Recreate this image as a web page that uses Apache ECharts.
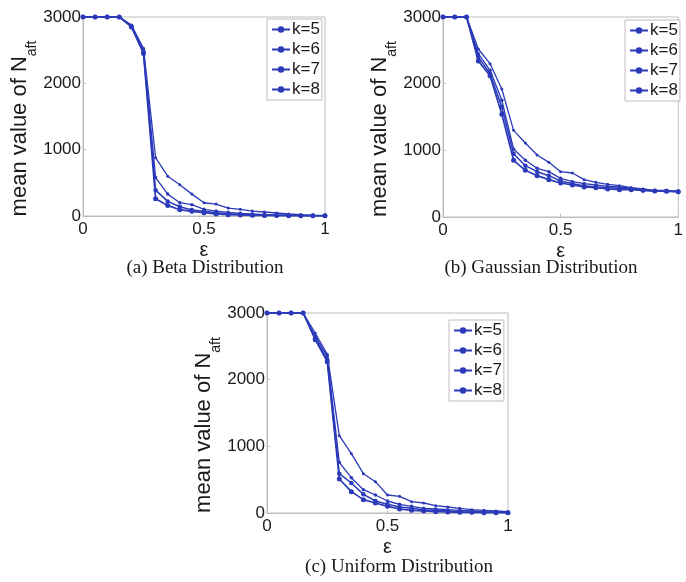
<!DOCTYPE html>
<html>
<head>
<meta charset="utf-8">
<script src="https://cdn.jsdelivr.net/npm/echarts@6/dist/echarts.min.js"></script>
<style>
  html, body { margin: 0; padding: 0; background: #fff; }
  #chart { width: 686px; height: 582px; }
</style>
</head>
<body>
<div id="chart"></div>
<script>
// Threshold epsilon (x values shared by every panel)
const eps = [0, 0.05, 0.1, 0.15, 0.2, 0.25, 0.3, 0.35, 0.4, 0.45, 0.5,
             0.55, 0.6, 0.65, 0.7, 0.75, 0.8, 0.85, 0.9, 0.95, 1];

const kLabels = ['k=5', 'k=6', 'k=7', 'k=8'];
const yTicks = [0, 1000, 2000, 3000];
const xTicks = [0, 0.5, 1];

// (a) Beta distribution
const betaK5 = [3000, 3000, 3000, 3000, 2880, 2530, 880, 600, 470, 330, 200, 180, 120, 100, 75, 60, 45, 30, 20, 12, 8];
const betaK6 = [3000, 3000, 3000, 3000, 2870, 2500, 580, 330, 200, 170, 100, 75, 55, 40, 30, 22, 15, 10, 8, 6, 5];
const betaK7 = [3000, 3000, 3000, 3000, 2860, 2470, 390, 220, 140, 90, 70, 50, 35, 25, 18, 12, 10, 7, 5, 4, 3];
const betaK8 = [3000, 3000, 3000, 3000, 2850, 2450, 260, 160, 95, 70, 50, 30, 20, 15, 10, 8, 6, 5, 4, 3, 2];

// (b) Gaussian distribution
const gaussK5 = [3000, 3000, 3000, 2520, 2300, 1920, 1300, 1110, 930, 820, 680, 660, 560, 520, 490, 470, 440, 420, 400, 400, 385];
const gaussK6 = [3000, 3000, 3000, 2450, 2200, 1750, 1020, 850, 730, 680, 580, 530, 500, 480, 460, 450, 430, 410, 390, 390, 385];
const gaussK7 = [3000, 3000, 3000, 2400, 2150, 1650, 950, 770, 680, 620, 540, 500, 470, 450, 440, 430, 420, 400, 390, 390, 380];
const gaussK8 = [3000, 3000, 3000, 2340, 2120, 1540, 850, 700, 620, 560, 510, 480, 450, 440, 420, 410, 410, 400, 390, 385, 380];

// (c) Uniform distribution
const unifK5 = [3000, 3000, 3000, 3000, 2700, 2380, 1160, 890, 590, 470, 270, 250, 170, 150, 110, 90, 70, 50, 40, 30, 20];
const unifK6 = [3000, 3000, 3000, 3000, 2650, 2350, 760, 530, 350, 270, 180, 130, 100, 70, 60, 50, 40, 30, 20, 15, 10];
const unifK7 = [3000, 3000, 3000, 3000, 2620, 2300, 590, 450, 280, 180, 130, 90, 70, 50, 40, 30, 20, 15, 10, 10, 5];
const unifK8 = [3000, 3000, 3000, 3000, 2600, 2270, 510, 320, 200, 150, 100, 60, 40, 30, 20, 15, 10, 10, 5, 5, 5];

const captions = ['(a) Beta Distribution', '(b) Gaussian Distribution', '(c) Uniform Distribution'];

const panels = [
  { series: [betaK5, betaK6, betaK7, betaK8] },
  { series: [gaussK5, gaussK6, gaussK7, gaussK8] },
  { series: [unifK5, unifK6, unifK7, unifK8] }
];

// layout of the three plot boxes
const boxes = [
  { left: 83, top: 17, width: 242, height: 199 },
  { left: 443, top: 17, width: 241, height: 200 },
  { left: 267, top: 313, width: 241, height: 200 }
];
const legendPos = [
  { left: 267, top: 19 },
  { left: 625, top: 20 },
  { left: 449, top: 320 }
];
const captionPos = [
  { x: 205, y: 268 },
  { x: 541, y: 268 },
  { x: 399, y: 567 }
];

const BLUE = '#2b3ab8';
const TEXT = '#1a1a1a';
const FRAME = '#bdbdbd';
const markerSizes = [3, 3.5, 4.5, 5];
const lineWidths = [1.3, 1.3, 1.5, 1.7];

const grid = [], xAxis = [], yAxis = [], series = [], legend = [], graphic = [];

boxes.forEach((b, i) => {
  grid.push(Object.assign({ show: true, borderColor: FRAME, borderWidth: 1, backgroundColor: '#fff' }, b));
  xAxis.push({
    type: 'value', gridIndex: i, min: xTicks[0], max: xTicks[xTicks.length - 1], interval: 0.5,
    name: 'ε', nameLocation: 'middle', nameGap: 24,
    nameTextStyle: { fontFamily: 'Liberation Sans', fontSize: 20, color: TEXT },
    axisLine: { lineStyle: { color: FRAME } },
    axisTick: { inside: true, length: 3, lineStyle: { color: FRAME } },
    axisLabel: { fontFamily: 'Liberation Sans', fontSize: 17, color: TEXT, margin: 5 },
    splitLine: { show: false }
  });
  yAxis.push({
    type: 'value', gridIndex: i, min: yTicks[0], max: yTicks[yTicks.length - 1], interval: 1000,
    name: '{m|mean value of N}{s|aft}', nameLocation: 'middle', nameGap: 46,
    nameTextStyle: {
      padding: [0, 24, 0, 0],
      rich: {
        m: { fontFamily: 'Liberation Sans', fontSize: 22, color: TEXT, lineHeight: 25 },
        s: { fontFamily: 'Liberation Sans', fontSize: 14, color: TEXT, verticalAlign: 'bottom', lineHeight: 16, padding: [0, 0, -7, 0] }
      }
    },
    axisLine: { lineStyle: { color: FRAME } },
    axisTick: { inside: true, length: 3, lineStyle: { color: FRAME } },
    axisLabel: { fontFamily: 'Liberation Sans', fontSize: 17, color: TEXT, margin: 2, formatter: v => String(v) },
    splitLine: { show: false }
  });
  const names = [];
  panels[i].series.forEach((vals, j) => {
    const name = kLabels[j] + ' ' + String.fromCharCode(97 + i);
    names.push(name);
    series.push({
      name: name, type: 'line', xAxisIndex: i, yAxisIndex: i,
      data: eps.map((x, n) => [x, vals[n]]),
      symbol: 'circle', symbolSize: markerSizes[j], showSymbol: true,
      lineStyle: { color: BLUE, width: lineWidths[j] },
      itemStyle: { color: BLUE },
      animation: false
    });
  });
  legend.push(Object.assign({
    data: names, orient: 'vertical', itemGap: 3, itemWidth: 18, itemHeight: 8,
    borderColor: FRAME, borderWidth: 1, padding: [2, 2, 2, 4], backgroundColor: '#fff',
    formatter: n => n.split(' ')[0],
    textStyle: { fontFamily: 'Liberation Sans', fontSize: 17, color: TEXT, padding: [0, 0, 0, -3] },
    selectedMode: false
  }, legendPos[i]));
  graphic.push({
    type: 'text', x: captionPos[i].x, y: captionPos[i].y,
    style: {
      text: captions[i], fill: TEXT, font: '19px "Liberation Serif"',
      textAlign: 'center', textVerticalAlign: 'middle'
    }
  });
});

const chart = echarts.init(document.getElementById('chart'), null, { renderer: 'canvas' });
chart.setOption({ animation: false, grid, xAxis, yAxis, series, legend, graphic });
</script>
</body>
</html>
